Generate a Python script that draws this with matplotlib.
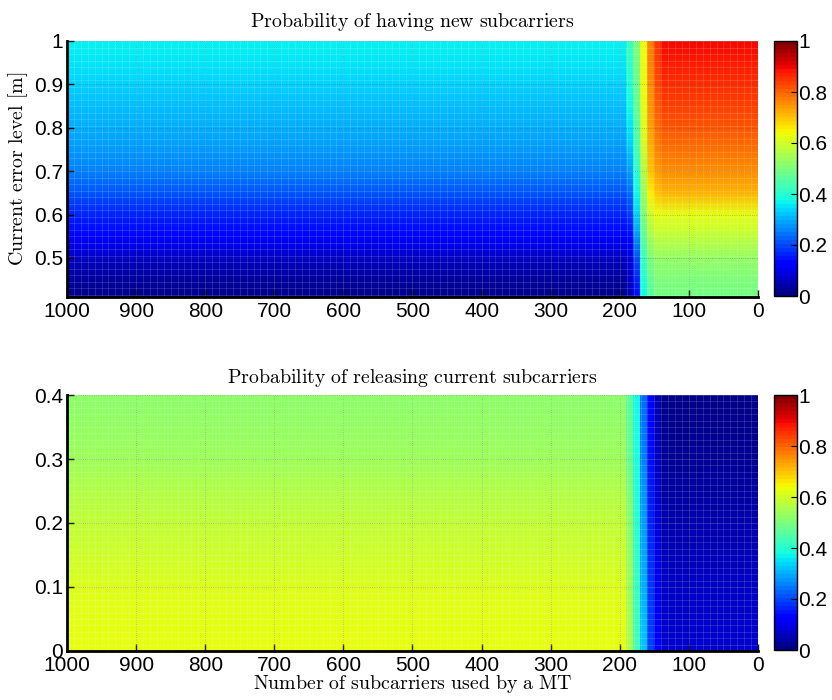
import numpy as np
import matplotlib
matplotlib.use('Agg')
import matplotlib.pyplot as plt
from matplotlib.colors import Normalize
from matplotlib.cm import ScalarMappable

plt.rcParams['font.family'] = ['Liberation Sans', 'DejaVu Sans']
plt.rcParams['mathtext.fontset'] = 'cm'

# column groups along x (number of subcarriers), left edge -> right edge
group_edges = [1000, 190, 180, 170, 160, 150, 140, 0]

# top panel: probability of having new subcarriers
err_levels = [0.41, 0.45, 0.50, 0.55, 0.60, 0.65, 0.70, 0.75, 0.80, 0.85, 0.90, 0.95, 1.00]
p_new = [
    [0.01, 0.025, 0.06, 0.11, 0.16, 0.21, 0.25, 0.275, 0.295, 0.31, 0.33, 0.35, 0.36],   # 1000-190
    [0.04, 0.06, 0.08, 0.13, 0.18, 0.23, 0.28, 0.32, 0.35, 0.37, 0.39, 0.41, 0.42],      # 190-180
    [0.13, 0.16, 0.20, 0.27, 0.33, 0.37, 0.40, 0.43, 0.45, 0.47, 0.48, 0.49, 0.50],      # 180-170
    [0.37, 0.39, 0.42, 0.46, 0.50, 0.53, 0.56, 0.59, 0.61, 0.62, 0.63, 0.63, 0.64],      # 170-160
    [0.45, 0.47, 0.50, 0.55, 0.60, 0.66, 0.70, 0.72, 0.74, 0.75, 0.76, 0.77, 0.77],      # 160-150
    [0.49, 0.50, 0.53, 0.58, 0.63, 0.70, 0.74, 0.77, 0.79, 0.81, 0.83, 0.84, 0.85],      # 150-140
    [0.49, 0.50, 0.53, 0.58, 0.625, 0.72, 0.76, 0.79, 0.82, 0.84, 0.86, 0.88, 0.90],     # 140-0
]

# bottom panel: probability of releasing current subcarriers
rel_levels = [0.0, 0.05, 0.10, 0.15, 0.20, 0.25, 0.30, 0.35, 0.40]
p_release = [
    [0.63, 0.625, 0.615, 0.60, 0.585, 0.565, 0.54, 0.53, 0.52],
    [0.56, 0.55, 0.54, 0.53, 0.52, 0.50, 0.48, 0.47, 0.46],
    [0.43, 0.425, 0.42, 0.41, 0.40, 0.39, 0.385, 0.38, 0.37],
    [0.32, 0.31, 0.30, 0.29, 0.28, 0.27, 0.25, 0.24, 0.23],
    [0.19, 0.185, 0.18, 0.17, 0.16, 0.15, 0.14, 0.13, 0.12],
    [0.11, 0.10, 0.095, 0.09, 0.08, 0.07, 0.06, 0.05, 0.045],
    [0.07, 0.065, 0.06, 0.05, 0.04, 0.03, 0.02, 0.015, 0.01],
]

x_ticks = [1000, 900, 800, 700, 600, 500, 400, 300, 200, 100, 0]
cmap = plt.get_cmap('jet', 64)
norm = Normalize(0, 1)


def draw_panel(ax, levels, groups, row_step, ylim, yticks):
    # two vertex columns per group so group borders stay sharp
    xv = []
    cols = []
    for i, g in enumerate(groups):
        xv += [group_edges[i], group_edges[i + 1]]
        cols += [g, g]
    X, Y = np.meshgrid(xv, levels)
    C = np.array(cols).T
    ax.pcolormesh(X, Y, C, shading='gouraud', cmap='jet', norm=norm)

    # faint facet lines like matlab surf
    for xl in range(0, 1001, 10):
        ax.axvline(xl, color='white', lw=0.5, alpha=0.2, zorder=2)
    for yl in np.arange(ylim[1], ylim[0], -row_step):
        ax.axhline(yl, color='white', lw=0.5, alpha=0.2, zorder=2)

    ax.set_xlim(1000, 0)
    ax.set_ylim(*ylim)
    ax.set_xticks(x_ticks)
    ax.set_xticklabels([str(t) for t in x_ticks])
    ax.set_yticks(yticks)
    ax.set_yticklabels(['%g' % t for t in yticks])
    ax.grid(True, color='#444444', ls=':', lw=0.6, alpha=0.45)
    ax.tick_params(direction='in', length=5, width=1, labelsize=15, pad=3)
    ax.tick_params(axis='x', pad=3.5)
    for s in ['top', 'right']:
        ax.spines[s].set_visible(False)
    for s in ['left', 'bottom']:
        ax.spines[s].set_linewidth(2)


def draw_cbar(fig, rect):
    cax = fig.add_axes(rect)
    cb = fig.colorbar(ScalarMappable(norm=norm, cmap=cmap), cax=cax)
    cb.set_ticks([0, 0.2, 0.4, 0.6, 0.8, 1])
    cb.set_ticklabels(['0', '0.2', '0.4', '0.6', '0.8', '1'])
    cax.tick_params(direction='in', length=4, labelsize=15, pad=1)
    cb.outline.set_linewidth(1)


fig = plt.figure(figsize=(8.32, 7), dpi=100)

ax1 = fig.add_axes([67 / 832, 1 - 297 / 700, 691 / 832, 256 / 700])
draw_panel(ax1, err_levels, p_new, 0.015, (0.41, 1.0), [0.5, 0.6, 0.7, 0.8, 0.9, 1])
ax1.set_title(r'$\mathrm{Probability\ of\ having\ new\ subcarriers}$', fontsize=14.3, pad=10)
ax1.set_ylabel(r'$\mathrm{Current\ error\ level\ [m]}$', fontsize=14.3, labelpad=3)
draw_cbar(fig, [774 / 832, 1 - 296 / 700, 23 / 832, 255 / 700])

ax2 = fig.add_axes([67 / 832, 1 - 651 / 700, 691 / 832, 256 / 700])
draw_panel(ax2, rel_levels, p_release, 0.01, (0.0, 0.4), [0, 0.1, 0.2, 0.3, 0.4])
ax2.set_title(r'$\mathrm{Probability\ of\ releasing\ current\ subcarriers}$', fontsize=14.3, pad=9)
ax2.set_xlabel(r'$\mathrm{Number\ of\ subcarriers\ used\ by\ a\ MT}$', fontsize=14.3, labelpad=-1)
draw_cbar(fig, [774 / 832, 1 - 650 / 700, 23 / 832, 255 / 700])

fig.savefig('out.png', dpi=100)
